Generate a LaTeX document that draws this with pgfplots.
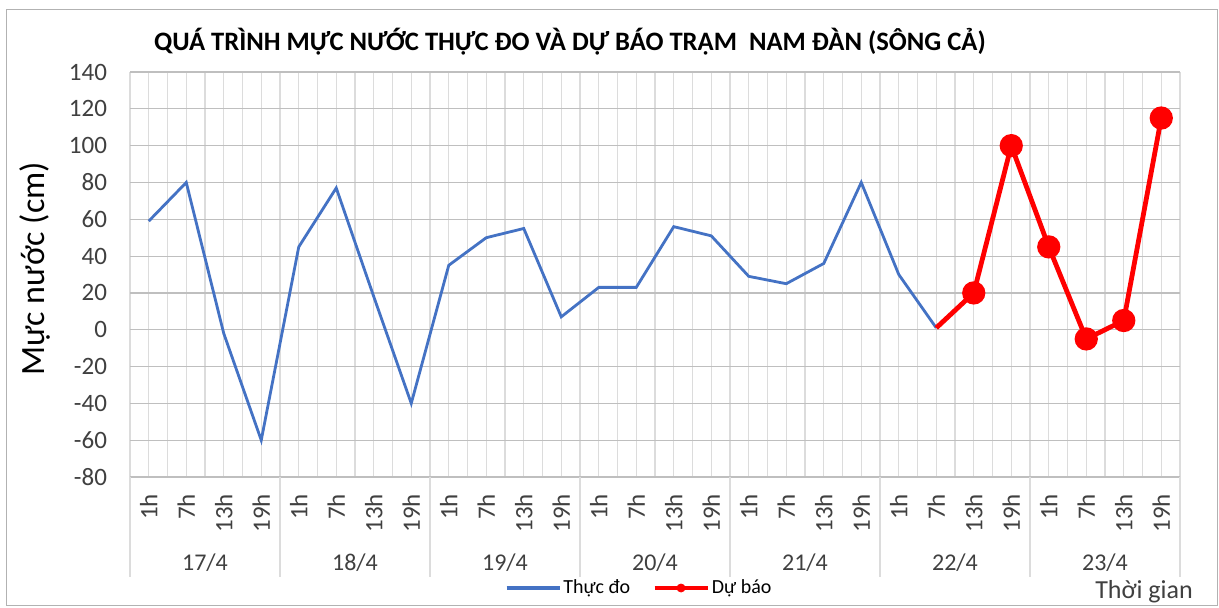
\documentclass[border=0pt]{standalone}
\usepackage{pgfplots}
\pgfplotsset{compat=1.18}
\usepackage{fontspec}
\setmainfont{Carlito}
\definecolor{xlblue}{HTML}{4472C4}
\definecolor{xlred}{HTML}{FF0000}
\definecolor{hgrid}{HTML}{BFBFBF}
\definecolor{vgrid}{HTML}{DCDCDC}
\definecolor{txt}{HTML}{404040}
\pgfplotsset{
  legblue/.style={legend image code/.code={\draw[xlblue, line width=1.6pt] (0pt,0pt) -- (26.5pt,0pt);}},
  legred/.style={legend image code/.code={\draw[xlred, line width=2.4pt] (0pt,0pt) -- (26.5pt,0pt); \fill[xlred] (13.25pt,0pt) circle (2pt);}},
}
\begin{document}
\begin{tikzpicture}
\path[use as bounding box] (0,0) rectangle (609.5pt,303.5pt);
\draw[fill=white, draw=gray!60] (3pt,1pt) rectangle (608.5pt,299pt);
\begin{axis}[
  at={(65pt,65pt)}, anchor=south west,
  scale only axis, width=525pt, height=202.5pt,
  xmin=-0.5, xmax=27.5, ymin=-80, ymax=140,
  ytick={-80,-60,...,140},
  xtick={0,...,27},
  xticklabels={1h,7h,13h,19h,1h,7h,13h,19h,1h,7h,13h,19h,1h,7h,13h,19h,1h,7h,13h,19h,1h,7h,13h,19h,1h,7h,13h,19h},
  minor xtick={-0.5,0.5,...,27.5},
  xmajorgrids, xminorgrids, ymajorgrids,
  major x grid style={vgrid, line width=0.6pt},
  minor x grid style={vgrid, line width=0.6pt},
  major y grid style={hgrid, line width=0.6pt},
  axis line style={draw=none},
  major tick length=0pt, minor tick length=0pt,
  tick label style={text=txt},
  yticklabel style={font=\fontsize{12.5}{14}\selectfont, xshift=-8pt},
  xticklabel style={font=\fontsize{12.5}{14}\selectfont, rotate=90, anchor=east, xshift=-5pt},
  /pgf/number format/assume math mode=true,
  clip=false,
  legend style={at={(0.485,0)}, anchor=center, yshift=-55.5pt, draw=none, fill=none,
    font=\fontsize{10}{12}\selectfont, legend columns=2,
    /tikz/every even column/.append style={column sep=10pt},
    inner sep=0pt, nodes={inner sep=1pt}},
  legend cell align=left,
]
\draw[hgrid, line width=0.6pt] (axis cs:-0.5,-80) -- (axis cs:27.5,-80);
\pgfplotsinvokeforeach{-0.5,3.5,7.5,11.5,15.5,19.5,23.5,27.5}{
  \draw[vgrid, line width=0.7pt] (axis cs:#1,-80) -- ([yshift=-50pt]axis cs:#1,-80);
}
\node[font=\fontsize{12}{14}\selectfont, text=txt, yshift=-43pt] at (axis cs:1.5,-80) {17/4};
\node[font=\fontsize{12}{14}\selectfont, text=txt, yshift=-43pt] at (axis cs:5.5,-80) {18/4};
\node[font=\fontsize{12}{14}\selectfont, text=txt, yshift=-43pt] at (axis cs:9.5,-80) {19/4};
\node[font=\fontsize{12}{14}\selectfont, text=txt, yshift=-43pt] at (axis cs:13.5,-80) {20/4};
\node[font=\fontsize{12}{14}\selectfont, text=txt, yshift=-43pt] at (axis cs:17.5,-80) {21/4};
\node[font=\fontsize{12}{14}\selectfont, text=txt, yshift=-43pt] at (axis cs:21.5,-80) {22/4};
\node[font=\fontsize{12}{14}\selectfont, text=txt, yshift=-43pt] at (axis cs:25.5,-80) {23/4};
\addplot[xlblue, line width=1.4pt, forget plot] coordinates {
(0,59) (1,80) (2,-2) (3,-60) (4,45) (5,77) (6,18) (7,-40)
(8,35) (9,50) (10,55) (11,7) (12,23) (13,23) (14,56) (15,51)
(16,29) (17,25) (18,36) (19,80) (20,30) (21,1)
};
\addplot[xlred, line width=2.4pt, mark=*, mark size=4.6pt, mark indices={2,3,4,5,6,7}, forget plot] coordinates {
(21,1) (22,20) (23,100) (24,45) (25,-5) (26,5) (27,115)
};
\addlegendimage{legblue}
\addlegendentry{Thực đo}
\addlegendimage{legred}
\addlegendentry{Dự báo}
\end{axis}
\node[font=\bfseries\fontsize{13.3}{16}\selectfont] at (285pt,282.5pt) {QUÁ TRÌNH MỰC NƯỚC THỰC ĐO VÀ DỰ BÁO TRẠM\ \ NAM ĐÀN (SÔNG CẢ)};
\node[rotate=90, font=\fontsize{17}{20}\selectfont] at (17.5pt,169pt) {Mực nước (cm)};
\node[font=\fontsize{13}{15}\selectfont, text=txt] at (572pt,7.5pt) {Thời gian};
\end{tikzpicture}
\end{document}
